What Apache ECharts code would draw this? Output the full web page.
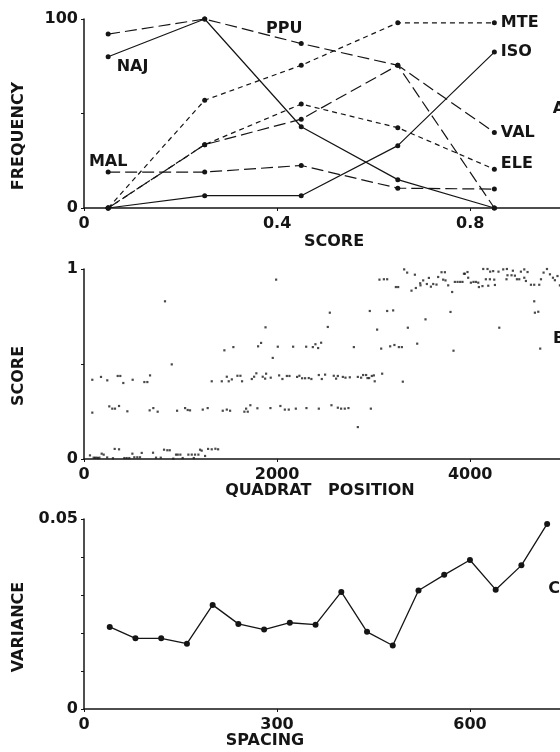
<!DOCTYPE html>
<html>
<head>
<meta charset="utf-8">
<script src="https://cdn.jsdelivr.net/npm/echarts@6/dist/echarts.min.js"></script>
<style>
    html, body { margin: 0; padding: 0; background: #fff; }
    #chart { width: 560px; height: 752px; }
</style>
</head>
<body>
<div id="chart"></div>
<script>
// panel A - frequency vs score
var scoreX = [0.05, 0.25, 0.45, 0.65, 0.85];
var najFreq = [80, 100, 43, 15, 0];
var ppuFreq = [92, 100, 87, 75.5, 0];
var mteFreq = [0, 57, 75.5, 98, 98];
var malFreq = [19, 19, 22.5, 10.5, 10];
var isoFreq = [0, 6.5, 6.5, 33, 82.5];
var eleFreq = [0, 33.5, 55, 42.5, 20.5];
var valFreq = [0, 33.5, 47, 75.5, 40];

// panel B - score vs quadrat position
var scorePoints = [
    [62,0.019],[100,0.007],[115,0.006],[130,0.007],[145,0.005],[160,0.007],[183,0.028],[204,0.023],[240,0.008],[300,0.004],
    [318,0.053],[363,0.051],[418,0.005],[442,0.005],[469,0.005],[501,0.028],[521,0.009],[552,0.009],[580,0.009],[598,0.032],
    [715,0.033],[746,0.007],[795,0.007],[829,0.049],[863,0.046],[888,0.046],[925,0.002],[953,0.023],[971,0.023],[998,0.023],
    [1022,0.005],[1081,0.023],[1116,0.023],[1137,0.005],[1150,0.023],[1185,0.023],[1202,0.049],[1219,0.044],[1254,0.016],
    [1285,0.053],[1323,0.051],[1361,0.054],[1389,0.051],
    [86,0.244],[262,0.277],[293,0.265],[321,0.265],[363,0.279],[449,0.251],[680,0.256],[718,0.268],[763,0.249],[964,0.254],
    [1047,0.268],[1074,0.258],[1098,0.256],[1230,0.26],[1281,0.268],[1437,0.254],[1479,0.26],[1513,0.254],[1661,0.249],
    [1679,0.265],[1696,0.249],[1723,0.283],[1796,0.267],[1931,0.268],[2034,0.279],[2080,0.26],[2121,0.26],[2194,0.265],
    [2304,0.268],[2432,0.265],[2563,0.283],[2629,0.27],[2663,0.265],[2701,0.265],[2739,0.268],[2971,0.265],[2836,0.168],
    [86,0.417],[176,0.432],[241,0.414],[349,0.437],[376,0.437],[407,0.40],[504,0.417],[625,0.405],[656,0.405],[684,0.44],
    [1323,0.409],[1427,0.409],[1479,0.433],[1499,0.409],[1531,0.419],[1589,0.438],[1620,0.438],[1637,0.409],[1738,0.421],
    [1762,0.433],[1785,0.451],[1851,0.433],[1876,0.423],[1886,0.449],[1934,0.428],[2021,0.44],[2055,0.421],[2101,0.437],
    [2128,0.437],[2207,0.432],[2231,0.438],[2259,0.425],[2290,0.425],[2328,0.426],[2355,0.421],[2432,0.442],[2463,0.421],
    [2497,0.444],[2587,0.438],[2611,0.423],[2629,0.437],[2681,0.432],[2708,0.428],[2753,0.43],[2836,0.432],[2870,0.428],
    [2891,0.442],[2922,0.442],[2936,0.426],[2953,0.426],[2981,0.437],[3002,0.44],[3011,0.409],[3088,0.449],[3302,0.407],
    [839,0.83],[909,0.498],[1454,0.572],[1547,0.589],[1803,0.593],[1834,0.611],[1880,0.693],[1955,0.532],[2007,0.591],
    [2166,0.591],[2301,0.591],[2370,0.589],[2397,0.604],[2425,0.584],[2456,0.612],[2525,0.695],[2546,0.77],[2795,0.589],
    [2960,0.779],[3036,0.681],[3078,0.581],[3140,0.779],[3171,0.593],[3202,0.782],[3215,0.60],[3261,0.589],[3292,0.589],
    [3354,0.691],[3451,0.607],[3537,0.735],[3796,0.774],[3827,0.57],[4301,0.691],[4663,0.83],[4670,0.77],[4705,0.775],[4725,0.581],
    [1990,0.944],[3060,0.944],[3106,0.946],[3140,0.946],[3230,0.905],[3254,0.905],[3316,0.998],[3347,0.981],[3392,0.886],
    [3427,0.97],[3437,0.90],[3482,0.925],[3485,0.914],[3513,0.94],[3551,0.921],[3572,0.953],[3593,0.907],[3617,0.921],[3651,0.918],
    [3668,0.958],[3703,0.983],[3720,0.944],[3738,0.983],[3744,0.94],[3772,0.914],[3813,0.879],[3841,0.932],[3869,0.932],
    [3896,0.932],[3920,0.932],[3935,0.975],[3945,0.975],[3972,0.984],[3979,0.954],[4007,0.928],[4034,0.932],[4059,0.932],
    [4083,0.928],[4090,0.905],[4127,0.91],[4135,1.0],[4162,0.946],[4179,1.0],[4187,0.912],[4204,0.946],[4207,0.986],
    [4238,0.989],[4249,0.944],[4256,0.916],[4293,0.986],[4342,0.998],[4376,0.946],[4380,1.0],[4386,0.967],[4428,0.967],
    [4442,0.991],[4463,0.965],[4484,0.946],[4508,0.946],[4525,0.986],[4560,0.998],[4560,0.954],[4577,0.937],[4594,0.984],
    [4629,0.917],[4663,0.917],[4715,0.917],[4733,0.946],[4760,0.981],[4795,1.0],[4826,0.972],[4857,0.954],[4877,0.941],
    [4904,0.963],[4929,0.914]
];

// panel C - variance vs spacing
var spacing = [40, 80, 120, 160, 200, 240, 280, 320, 360, 400, 440, 480, 520, 560, 600, 640, 680, 720];
var variance = [0.0216, 0.0186, 0.0186, 0.0172, 0.0274, 0.0224, 0.0209, 0.0227, 0.0222, 0.0308, 0.0203, 0.0167,
    0.0312, 0.0353, 0.0392, 0.0314, 0.0378, 0.0487];

var FONT = 'DejaVu Sans';
var INK = '#151515';
var LONG = [12, 5];
var SHORT = [5, 4];

var linesA = [
    { name: 'NAJ', freq: najFreq, dash: 'solid', at: 0, pos: 'right', off: [2, 10] },
    { name: 'PPU', freq: ppuFreq, dash: LONG, at: 2, pos: 'top', off: [-17, 0] },
    { name: 'MTE', freq: mteFreq, dash: SHORT, at: 4, pos: 'right', off: [0, 0] },
    { name: 'MAL', freq: malFreq, dash: LONG, at: 0, pos: 'top', off: [0, 4] },
    { name: 'ISO', freq: isoFreq, dash: 'solid', at: 4, pos: 'right', off: [0, 0] },
    { name: 'ELE', freq: eleFreq, dash: SHORT, at: 4, pos: 'right', off: [0, -5] },
    { name: 'VAL', freq: valFreq, dash: LONG, at: 4, pos: 'right', off: [0, 0] }
];

function xAxisOf(grid, max, interval) {
    return {
        type: 'value', gridIndex: grid, min: 0, max: max, interval: interval,
        axisLine: { lineStyle: { color: INK, width: 1.5 } },
        axisTick: { length: 3, lineStyle: { color: INK } },
        axisLabel: {
            color: INK, fontFamily: FONT, fontWeight: 'bold', fontSize: 16, margin: 8, showMaxLabel: false,
            formatter: function (v) { return String(v); }
        },
        splitLine: { show: false }
    };
}

function yAxisOf(grid, max, interval, fmt) {
    return {
        type: 'value', gridIndex: grid, min: 0, max: max, interval: interval,
        axisLine: { show: true, lineStyle: { color: INK, width: 1.5 } },
        axisTick: { show: true, length: 3, lineStyle: { color: INK } },
        axisLabel: { color: INK, fontFamily: FONT, fontWeight: 'bold', fontSize: 16, margin: 6, formatter: fmt },
        splitLine: { show: false }
    };
}

function title(text, x, y, rot) {
    return {
        type: 'text', x: x, y: y, rotation: rot || 0,
        style: {
            text: text, fill: INK, font: 'bold 16px "DejaVu Sans"',
            textAlign: 'center', textVerticalAlign: 'middle'
        }
    };
}

var series = [];
linesA.forEach(function (s) {
    var data = [];
    for (var i = 0; i < scoreX.length; i++) {
        var item = { value: [scoreX[i], s.freq[i]] };
        if (i === s.at) {
            item.label = {
                show: true, formatter: s.name, position: s.pos, offset: s.off, distance: 4,
                color: INK, fontFamily: FONT, fontWeight: 'bold', fontSize: 16
            };
        }
        data.push(item);
    }
    series.push({
        name: s.name, type: 'line', xAxisIndex: 0, yAxisIndex: 0, data: data,
        symbol: 'circle', symbolSize: 5, showAllSymbol: true,
        itemStyle: { color: INK },
        lineStyle: { color: INK, width: 1.2, type: s.dash },
        emphasis: { disabled: true }, animation: false, z: 3
    });
});

series.push({
    name: 'score', type: 'scatter', xAxisIndex: 1, yAxisIndex: 1, data: scorePoints,
    symbol: 'rect', symbolSize: 2.2, itemStyle: { color: '#1c1c1c' }, animation: false
});

series.push({
    name: 'variance', type: 'line', xAxisIndex: 2, yAxisIndex: 2,
    data: spacing.map(function (s, i) { return [s, variance[i]]; }),
    symbol: 'circle', symbolSize: 6, itemStyle: { color: INK },
    lineStyle: { color: INK, width: 1.3 }, animation: false
});

var option = {
    backgroundColor: '#fff',
    animation: false,
    grid: [
        { left: 84, right: 0, top: 19, height: 189 },
        { left: 84, right: 0, top: 269, height: 190 },
        { left: 84, right: 0, top: 519, height: 190 }
    ],
    xAxis: [
        xAxisOf(0, 0.986, 0.4),
        xAxisOf(1, 4930, 2000),
        xAxisOf(2, 740, 300)
    ],
    yAxis: [
        yAxisOf(0, 100, 50, function (v) { return v === 50 ? '' : String(v); }),
        yAxisOf(1, 1, 0.5, function (v) { return v === 0.5 ? '' : String(v); }),
        yAxisOf(2, 0.05, 0.01, function (v) {
            if (v === 0) return '0';
            return Math.abs(v - 0.05) < 1e-9 ? '0.05' : '';
        })
    ],
    graphic: [
        title('FREQUENCY', 19, 136, Math.PI / 2),
        title('SCORE', 19, 376, Math.PI / 2),
        title('VARIANCE', 19, 627, Math.PI / 2),
        title('SCORE', 334, 242),
        title('QUADRAT   POSITION', 320, 491),
        title('SPACING', 265, 741),
        title('A', 559, 109),
        title('B', 559, 339),
        title('C', 554, 589)
    ],
    series: series
};

var myChart = echarts.init(document.getElementById('chart'));
myChart.setOption(option);
</script>
</body>
</html>
